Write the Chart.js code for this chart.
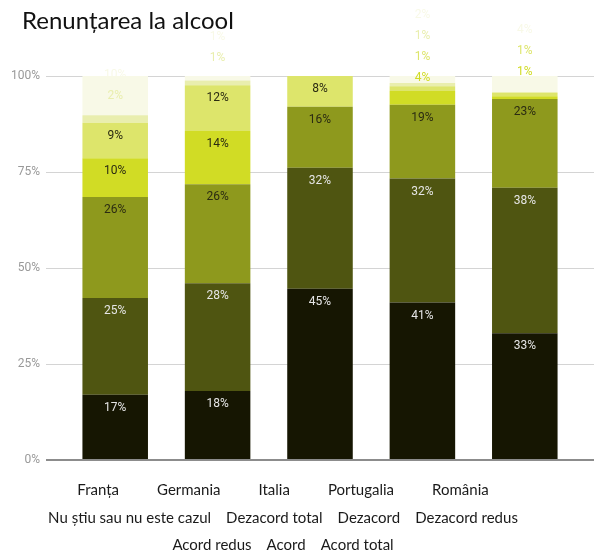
<!DOCTYPE html>
<html>
<head>
<meta charset="utf-8">
<script src="https://cdn.jsdelivr.net/npm/chart.js@4.4.1/dist/chart.umd.min.js"></script>
<style>
  html, body { margin: 0; padding: 0; background: #fff; }
</style>
</head>
<body>
<canvas id="chart" width="596" height="550"></canvas>
<script>
// categories
const countries = ["Franța", "Germania", "Italia", "Portugalia", "România"];

// series, stacked bottom -> top (percent)
const dezacordTotal = [17, 18, 44.6, 41, 33];
const dezacord = [25.2, 28, 31.5, 32.3, 37.9];
const dezacordRedus = [26.3, 25.8, 15.9, 19.2, 23.1];
const acordRedus = [10.1, 13.9, 0, 3.6, 0.7];
const acord = [9.2, 11.9, 8.0, 1.2, 1.0];
const acordTotal = [2.0, 1.2, 0, 0.9, 0];
const nuStiu = [10.2, 1.2, 0, 1.8, 4.3];

const seriesNames = ["Dezacord total", "Dezacord", "Dezacord redus", "Acord redus", "Acord", "Acord total", "Nu știu sau nu este cazul"];
const seriesValues = [dezacordTotal, dezacord, dezacordRedus, acordRedus, acord, acordTotal, nuStiu];
const seriesColors = ["#161602", "#4f5511", "#8e991d", "#d1dc25", "#dde56b", "#e9eeae", "#f8f9e7"];

// order of the text legend under the chart
const legendOrder = ["Nu știu sau nu este cazul", "Dezacord total", "Dezacord", "Dezacord redus", "Acord redus", "Acord", "Acord total"];

const yTicks = [0, 25, 50, 75, 100];
const titleText = "Renunțarea la alcool";

Chart.defaults.font.family = "Roboto";

// value labels: at the top of each segment, nudged upwards when they collide
const segLabels = {
  id: "segLabels",
  afterDatasetsDraw(chart) {
    const ctx = chart.ctx;
    ctx.save();
    ctx.font = "12px Roboto";
    ctx.textAlign = "center";
    ctx.textBaseline = "middle";
    for (let i = 0; i < chart.data.labels.length; i++) {
      let prevY = null, prevPushed = false;
      chart.data.datasets.forEach((ds, d) => {
        const v = ds.data[i];
        if (!v) return;
        const bar = chart.getDatasetMeta(d).data[i];
        let y = bar.y + 13;
        let pushed = false;
        if (prevY !== null && y > prevY - 21) {
          y = prevY - (prevPushed ? 21 : 40);
          pushed = true;
        }
        ctx.fillStyle = pushed ? ds.backgroundColor : (d < 2 ? "#e6e6e6" : "#2b2b12");
        ctx.fillText(Math.round(v) + "%", bar.x, y);
        prevY = y;
        prevPushed = pushed;
      });
    }
    ctx.restore();
  }
};

// title at top left, then country names + series names as centered text rows
const textLayer = {
  id: "textLayer",
  afterDraw(chart) {
    const ctx = chart.ctx;
    ctx.save();
    ctx.textAlign = "left";
    ctx.textBaseline = "alphabetic";

    ctx.font = "24px Lato";
    ctx.fillStyle = "#111";
    ctx.fillText(titleText, 22, 29);

    ctx.font = "15px Lato";
    ctx.fillStyle = "#1a1a1a";
    const cx = 283;
    const rows = [{ items: chart.data.labels, gap: 38 }];
    let cur = [];
    legendOrder.forEach(t => {
      const test = cur.concat([t]);
      const w = test.reduce((s, x) => s + ctx.measureText(x).width, 0) + (test.length - 1) * 15;
      if (w > 500 && cur.length) { rows.push({ items: cur, gap: 15 }); cur = [t]; }
      else cur = test;
    });
    if (cur.length) rows.push({ items: cur, gap: 15 });
    const baselines = [495, 523, 550];
    rows.forEach((r, k) => {
      const total = r.items.reduce((s, x) => s + ctx.measureText(x).width, 0) + (r.items.length - 1) * r.gap;
      let x = cx - total / 2;
      r.items.forEach(t => {
        ctx.fillText(t, x, baselines[k]);
        x += ctx.measureText(t).width + r.gap;
      });
    });
    ctx.restore();
  }
};

const gridColor = c => (c.tick && c.tick.value === 0 ? "#8c8c8c" : "#d4d4d4");
const gridWidth = c => (c.tick && c.tick.value === 0 ? 2 : 1);
const setTicks = s => { s.ticks = yTicks.map(v => ({ value: v })); };

new Chart(document.getElementById("chart"), {
  type: "bar",
  data: {
    labels: countries,
    datasets: seriesNames.map((name, k) => ({
      label: name,
      data: seriesValues[k],
      backgroundColor: seriesColors[k],
      borderWidth: 0,
      barPercentage: 0.8,
      categoryPercentage: 0.8
    }))
  },
  options: {
    responsive: false,
    animation: false,
    layout: { padding: { left: 0, right: 2, top: 76, bottom: 90 } },
    plugins: {
      legend: { display: false },
      tooltip: { enabled: false },
      title: { display: false }
    },
    scales: {
      x: {
        display: false,
        stacked: true
      },
      y: {
        stacked: true,
        min: 0,
        max: 100,
        afterFit: s => { s.width = 64; },
        afterBuildTicks: setTicks,
        border: { display: false },
        grid: { color: gridColor, lineWidth: gridWidth, tickLength: 18 },
        ticks: { color: "#999", font: { size: 12 }, padding: 6, callback: v => v + "%" }
      },
      y2: {
        position: "right",
        min: 0,
        max: 100,
        afterFit: s => { s.width = 18; },
        afterBuildTicks: setTicks,
        border: { display: false },
        grid: { drawOnChartArea: false, color: gridColor, lineWidth: gridWidth, tickLength: 18 },
        ticks: { display: false }
      }
    }
  },
  plugins: [segLabels, textLayer]
});
</script>
</body>
</html>
